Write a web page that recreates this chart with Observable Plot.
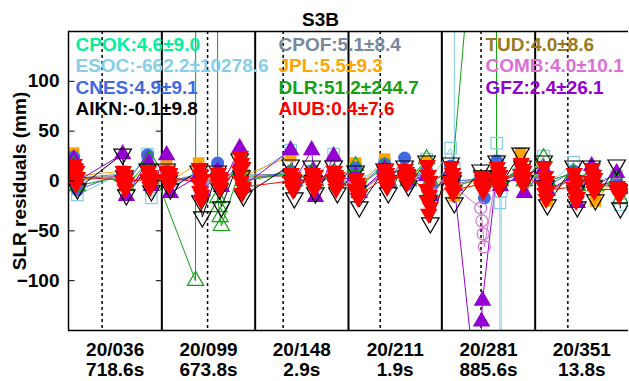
<!DOCTYPE html>
<html><head><meta charset="utf-8">
<script src="https://cdn.jsdelivr.net/npm/d3@7"></script>
<script src="https://cdn.jsdelivr.net/npm/@observablehq/plot@0.6"></script>
<style>body{margin:0;background:#fff} svg{display:block}</style>
</head><body><div id="chart"></div>
<script>
// ---------- data ----------
const title = "S3B";
const yLabel = "SLR residuals (mm)";
const panelDates = ["20/036","20/099","20/148","20/211","20/281","20/351"];
const panelDurations = ["718.6s","673.8s","2.9s","1.9s","885.6s","13.8s"];
const panelCenters = [0.5,1.5,2.5,3.5,4.5,5.5];
const panelBounds = [1,2,3,4,5];
const passMarks = [0.36,1.49,2.30,3.34,4.42,5.35];
const yTicks = [-100,-50,0,50,100];

// observation cluster times (panel units)
const clusterTimes = [0.075,0.600,0.868, 1.071,1.414,1.618,1.854, 2.400,2.625,2.861, 3.096,3.407,3.621,3.857, 4.114,4.436,4.607,4.864, 5.111,5.432,5.625,5.893];

const seriesNames = ["CPOK","ESOC","CNES","AIKN","CPOF","JPL","DLR","AIUB","TUD","COMB","GFZ"];
const seriesStats = ["4.6±9.0","-662.2±10278.6","4.9±9.1","-0.1±9.8","5.1±8.4","5.5±9.3","51.2±244.7","0.4±7.6","4.0±8.6","4.0±10.1","2.4±26.1"];
const seriesColors = ["#00f29a","#87ceeb","#4169e1","#000000","#778899","#ffa500","#14a014","#ff0000","#9a7a1c","#da70d6","#9400d3"];

// residuals per cluster (mm)
const CPOK = [[9,1],[6,-3],[6,-1],[6,-1],[6,-6],[5,-3],[15,5],[6,-4],[5,-3],[7,-2],[0,-11],[8,0],[9,2],[8,-14],[8,-5],[2,-6],[8,-1],[12,3],[6,-12],[3,-13],[7,-5],[-3,-10]];
const ESOC = [[8,-14],[8,0],[27,-17],[10,0],[5,-5],[10,-5],[18,0],[31,0],[10,0],[27,0],[12,0],[17,0],[10,0],[22,0],[33,12],null,null,[12,0],[25,-5],[19,0],[10,0],[5,-24]];
const CNES = [[24,-9],[8,-2],[26,0],[10,0],[5,-5],[18,0],[15,0],[10,0],[10,0],[10,0],[13,-5],[17,0],[23,-3],[10,-5],[15,0],[2,-17],[20,0],[10,0],[5,-5],[10,-5],[10,-5],[0,-8]];
const AIKN = [[12,2,-8],[27,5,-14],[12,0,-10],[12,0,-8],[10,-20,-36],[10,-8,-26],[22,5,-15],[16,0,-17],[15,0,-12],[15,0,-12],[10,-10,-26],[12,0,-12],[15,5,-5],[20,-20,-42],[18,0,-22],[11,5,-5],[20,5,-5],[28,15,0],[20,-5,-24],[15,-10,-26],[15,-5,-19],[16,-10,-27]];
const CPOF = [[11,3],[7,-2],[7,-2],[7,0],[7,-6],[6,-3],[16,6],[7,-3],[6,-3],[8,-1],[1,-10],[9,1],[10,3],[9,-12],[9,-4],[4,-5],[9,0],[13,5],[7,-10],[5,-12],[8,-4],[-2,-9]];
const JPL = [[28,5],[10,0],[10,0],[20,0],[18,0],[12,0],[26,5],[25,0],[10,0],[10,0],[18,-5],[22,0],[10,0],[20,-5],[5,-15],[5,-5],[10,-5],[28,0],[10,-20],[8,-10],[10,-20],[5,-8]];
const DLR = [[16,-5],[5,-5],[21],null,null,[-17,-26,-36,-45],[10,0],[8,0],[8,0],[8,0],[15,-5],[14,0],[8,0],[22,0],[10],null,[8,0],[10,0],[23,0],[8,-5],[8,-5],[0,-18]];
const AIUB = [[7,17,2,12,-3,10,4],[1,10,-4,6,-8,3,-1],[2,10,-2,6,-6,4,0],[2,10,-1,6,-4,8,4],[-2,13,-10,6,-19,-14,2],[0,8,-4,4,-7,2,-2],[10,25,0,18,-12,14,-6],[0,8,-5,4,-9,2,-3],[0,8,-4,4,-8,-2,6],[2,10,-3,6,-8,4,0],[-8,3,-12,-2,-17,-5,-14],[3,12,-2,8,-6,5,0],[5,12,1,9,-2,7,3],[-8,16,-20,6,-33,-14,0,-26],[0,15,-6,8,-12,4,-9],[-3,5,-7,1,-10,-5,3],[3,14,-2,9,-7,6,0],[7,18,2,12,-3,10,4],[-5,15,-12,5,-18,0,-9],[-6,8,-13,1,-20,-3,-16],[0,13,-5,6,-10,3,-8],[-9,-5,-11,-7,-14,-8,-12]];
const TUD = [[10,2],[5,-3],[6,-2],[7,-1],[5,-8],[4,-4],[14,4],[5,-5],[4,-4],[6,-2],[-2,-12],[8,-1],[9,2],[8,-15],[8,-6],[3,-6],[8,0],[12,4],[6,-12],[4,-14],[6,-6],[-4,-11]];
const COMB = [[8,0],[6,-4],[7,-3],[6,-2],[4,-6],[5,-4],[12,2],[6,-4],[5,-5],[7,-3],[0,-10],[8,-2],[9,1],[5,-12],[6,-6],[-27,-40,-53,-66],[8,-2],[10,2],[4,-10],[2,-12],[6,-4],[-3,-10]];
const GFZ = [[22,0],[27,5,-15],[20,-5],[26,-12],[5,-10],[10,-6],[33,20,-5],[31,0],[31,10,-16],[25,0],[5,-12],[12,-2],[10,0],[5,-15],[10,-5],null,[6,-5],[5,-12],[12,-10],[5,-22],[15,-5],[8,-8]];

// isolated observations / outliers [time, residual]
const ESOC_extra = [[4.160,5000],[4.575,5000],[4.588,38],[4.600,20],[4.612,0],[4.622,-22],[4.629,-100000],[4.636,-10]];
const DLR_extra = [[1.361,-100],[1.382,3000],[1.586,3000],[4.414,338],[4.565,1500]];
const GFZ_extra = [[4.414,-250],[4.425,-141],[4.436,-120]];

// ---------- styling ----------
const spread = 0.02;
const triDown = {draw(ctx, size){ const y = -Math.sqrt(size/(Math.sqrt(3)*3)); ctx.moveTo(0,-2*y); ctx.lineTo(-Math.sqrt(3)*y, y); ctx.lineTo(Math.sqrt(3)*y, y); ctx.closePath(); }};
const tickIn = {draw(ctx){ ctx.moveTo(0,0); ctx.lineTo(6,0); }};
const tickInLeft = {draw(ctx){ ctx.moveTo(0,0); ctx.lineTo(-6,0); }};
const markerStyle = {
  CPOK:{symbol:"plus", filled:false, r:5.5},
  ESOC:{symbol:"square", filled:false, r:6.5},
  CNES:{symbol:"circle", filled:true, r:6.5},
  AIKN:{symbol:triDown, filled:false, r:6.5},
  CPOF:{symbol:"times", filled:false, r:5.5},
  JPL:{symbol:"square", filled:true, r:6.5},
  DLR:{symbol:"triangle", filled:false, r:6},
  AIUB:{symbol:triDown, filled:true, r:6.5},
  TUD:{symbol:"asterisk", filled:false, r:5.5},
  COMB:{symbol:"circle", filled:false, r:6},
  GFZ:{symbol:"triangle", filled:true, r:6.5}
};
const seriesValues = {CPOK, ESOC, CNES, AIKN, CPOF, JPL, DLR, AIUB, TUD, COMB, GFZ};
const seriesExtra = {ESOC: ESOC_extra, DLR: DLR_extra, GFZ: GFZ_extra};
const drawOrder = ["CPOK","CPOF","TUD","ESOC","JPL","CNES","COMB","GFZ","DLR","AIKN","AIUB"];

function build(vals, extra = []) {
  const pts = [];
  vals.forEach((g, i) => {
    if (!g) return;
    const n = g.length;
    g.forEach((v, j) => {
      const off = n === 1 ? 0 : -spread + 2 * spread * j / (n - 1);
      pts.push({t: clusterTimes[i] + off, v});
    });
  });
  extra.forEach(([t, v]) => pts.push({t, v}));
  pts.sort((a, b) => a.t - b.t);
  return pts;
}

const FONT = "'Liberation Sans', Arial, Helvetica, sans-serif";
const marks = [];

// frame & guides
marks.push(Plot.ruleX(passMarks, {stroke: "black", strokeWidth: 1.5, strokeDasharray: "3,3"}));
marks.push(Plot.ruleX(panelBounds, {stroke: "black", strokeWidth: 2}));

// lines
for (const name of drawOrder) {
  const i = seriesNames.indexOf(name);
  const pts = build(seriesValues[name], seriesExtra[name]);
  marks.push(Plot.line(pts, {x: "t", y: "v", stroke: seriesColors[i], strokeWidth: 1, clip: true}));
}
// markers
for (const name of drawOrder) {
  const i = seriesNames.indexOf(name);
  const st = markerStyle[name];
  const pts = build(seriesValues[name], seriesExtra[name]);
  marks.push(Plot.dot(pts, {
    x: "t", y: "v", symbol: st.symbol, r: st.r, clip: true,
    fill: st.filled ? seriesColors[i] : "none",
    stroke: st.filled ? "none" : seriesColors[i],
    strokeWidth: 1.2
  }));
}

marks.push(Plot.ruleY([-150, 150], {stroke: "black", strokeWidth: 1.5}));
marks.push(Plot.ruleX([0], {stroke: "black", strokeWidth: 1.5}));
marks.push(Plot.dot(yTicks, {y: d => d, frameAnchor: "left", symbol: tickIn, stroke: "black", fill: "none", strokeWidth: 1, r: 3}));
marks.push(Plot.dot(yTicks, {x: () => panelBounds[0], y: d => d, symbol: tickInLeft, stroke: "black", fill: "none", strokeWidth: 1, r: 3}));
marks.push(Plot.axisY(yTicks, {anchor: "left", tickSize: 0, tickPadding: 9, fontSize: 19, fontWeight: "bold", fill: "black", label: null, fontFamily: FONT}));

// bottom panel labels
marks.push(Plot.text(panelDates.map((d, i) => i), {
  x: i => panelCenters[i], frameAnchor: "bottom", lineAnchor: "top", dy: 11,
  text: i => panelDates[i] + "\n" + panelDurations[i],
  fontSize: 19, fontWeight: "bold", fill: "black", lineHeight: 1.05, fontFamily: FONT
}));

// title & y label
marks.push(Plot.text([title], {frameAnchor: "top", dx: -28, dy: -6, lineAnchor: "bottom", fontSize: 19, fontWeight: "bold", fill: "black", fontFamily: FONT}));
marks.push(Plot.text([yLabel], {frameAnchor: "left", dx: -49, rotate: -90, lineAnchor: "middle", textAnchor: "middle", fontSize: 19, fontWeight: "bold", fill: "black", fontFamily: FONT}));

// legend text
const legendCols = [7, 210, 417];
const legendRows = [19, 40.5, 62, 83.5];
seriesNames.forEach((name, i) => {
  const col = Math.floor(i / 4), row = i % 4;
  marks.push(Plot.text([name + ":" + seriesStats[i]], {
    frameAnchor: "top-left", dx: legendCols[col], dy: legendRows[row],
    lineAnchor: "bottom", textAnchor: "start",
    fontSize: 19, fontWeight: "bold", fill: seriesColors[i], fontFamily: FONT
  }));
});

const chart = Plot.plot({
  width: 629, height: 381,
  marginTop: 31, marginLeft: 68, marginRight: 1, marginBottom: 51,
  x: {domain: [0, 6], axis: null},
  y: {domain: [-150, 150]},
  style: {fontFamily: FONT, background: "white", color: "black"},
  marks
});
document.getElementById("chart").appendChild(chart);
</script>
</body></html>
